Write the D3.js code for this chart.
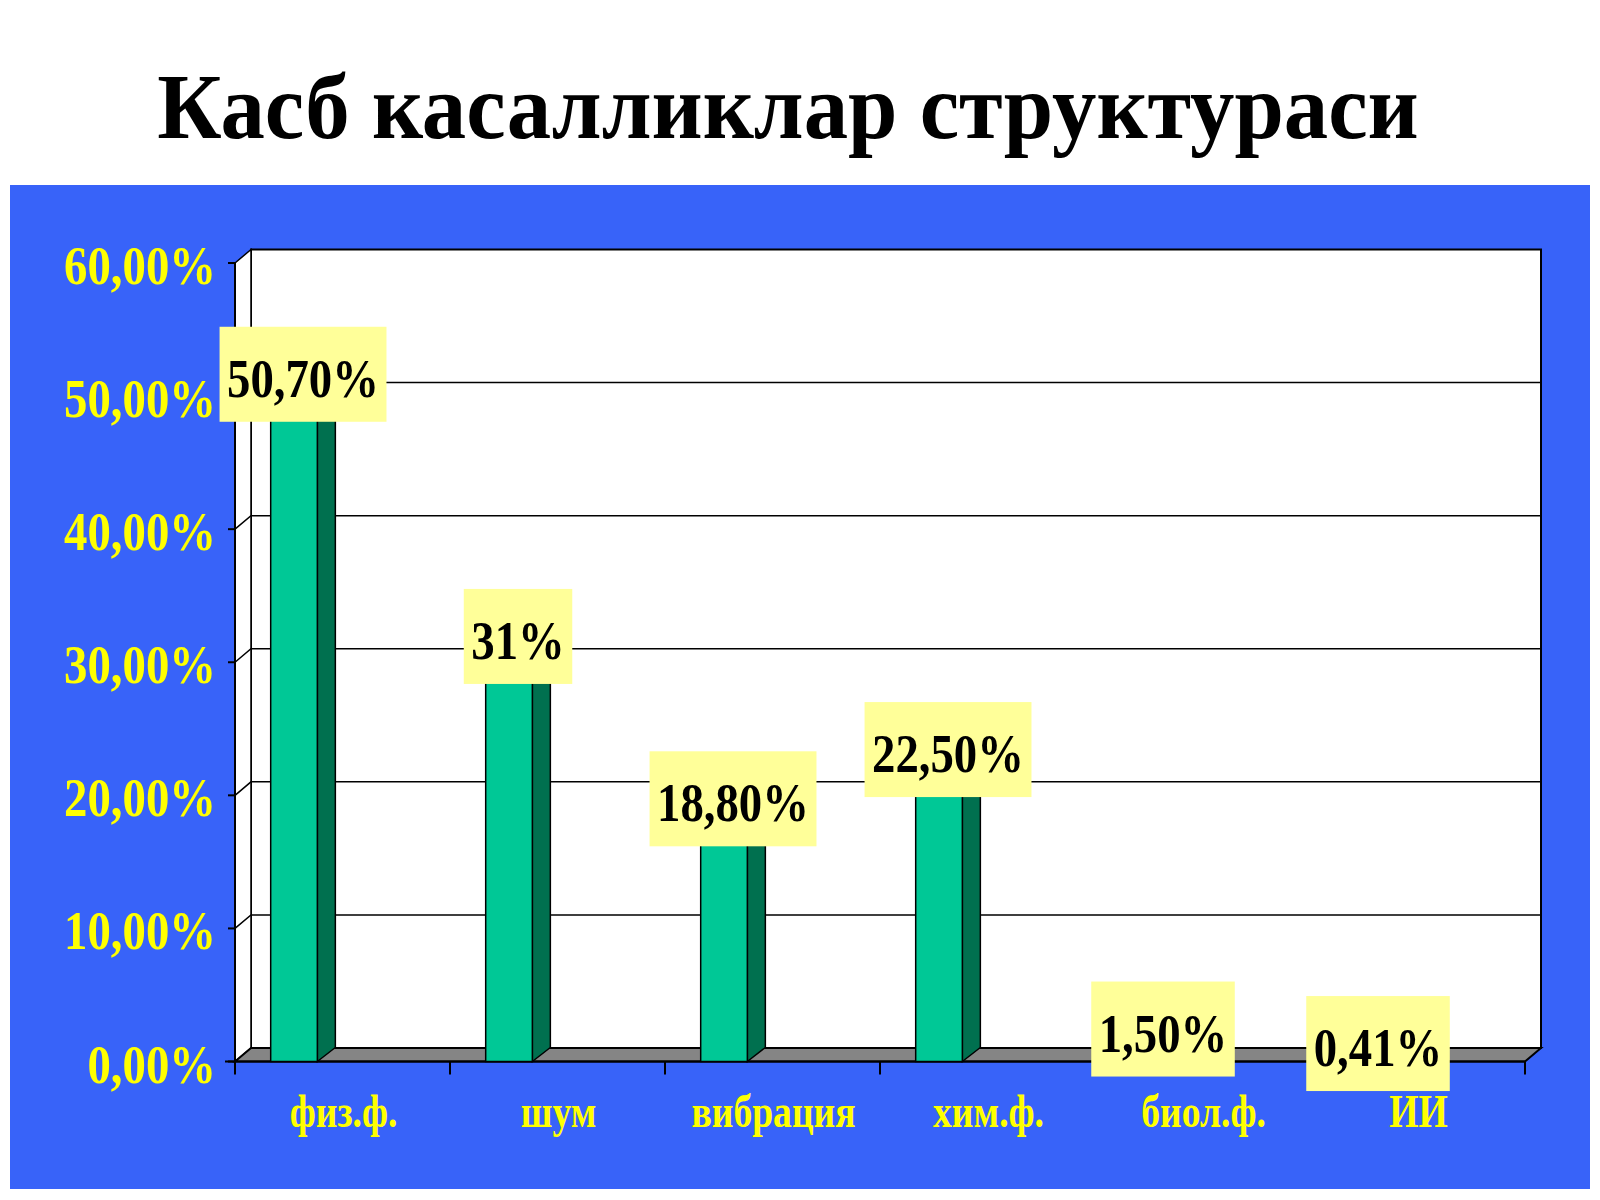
<!DOCTYPE html>
<html>
<head>
<meta charset="utf-8">
<script src="https://cdn.jsdelivr.net/npm/d3@7/dist/d3.min.js"></script>
<style>
  html, body { margin: 0; padding: 0; background: #ffffff; }
  svg { display: block; }
  text { font-family: "Liberation Serif", "Times New Roman", serif; font-weight: bold; }
</style>
</head>
<body>
<svg id="chart" width="1600" height="1200"></svg>
<script>
// ---- data ----
const title = "Касб касалликлар структураси";
const categories = ["физ.ф.", "шум", "вибрация", "хим.ф.", "биол.ф.", "ИИ"];
const values = [50.7, 31, 18.8, 22.5, 1.5, 0.41];
const valueLabels = ["50,70%", "31%", "18,80%", "22,50%", "1,50%", "0,41%"];
const yTicks = [0, 10, 20, 30, 40, 50, 60];
const yTickLabels = ["0,00%", "10,00%", "20,00%", "30,00%", "40,00%", "50,00%", "60,00%"];

// ---- layout ----
const svg = d3.select("#chart");
const X0 = 235, X1 = 1525;          // front axis extents
const Y0 = 1061.5, Y1 = 263;        // front 0% and 60%
const DX = 16, DY = -13.5;          // wall depth offset
const BDX = 18, BDY = -14;          // bar depth offset
const SX = 0.85;                    // horizontal text compression

const x = d3.scaleBand().domain(categories).range([X0, X1]).paddingInner(0).paddingOuter(0);
const y = d3.scaleLinear().domain([0, 60]).range([Y0, Y1]);

// title
svg.append("text")
  .attr("transform", `translate(788,138) scale(0.955,1)`)
  .attr("text-anchor", "middle")
  .attr("font-size", 93)
  .attr("fill", "#000")
  .text(title);

// blue panel
svg.append("rect")
  .attr("x", 10).attr("y", 185).attr("width", 1580).attr("height", 1004)
  .attr("fill", "#3863F9");

// back wall
svg.append("rect")
  .attr("x", X0 + DX).attr("y", y(60) + DY)
  .attr("width", X1 - X0).attr("height", y(0) - y(60))
  .attr("fill", "#ffffff").attr("stroke", "#000").attr("stroke-width", 2);

// left wall
svg.append("path")
  .attr("d", `M${X0},${y(0)} L${X0},${y(60)} L${X0 + DX},${y(60) + DY} L${X0 + DX},${y(0) + DY} Z`)
  .attr("fill", "#ffffff").attr("stroke", "#000").attr("stroke-width", 1.5);

// gridlines (back wall + side wall)
const gridVals = yTicks.filter(v => v > 0 && v < 60);
svg.append("g").selectAll("path").data(gridVals).join("path")
  .attr("d", v => `M${X0},${y(v)} L${X0 + DX},${y(v) + DY} L${X1 + DX},${y(v) + DY}`)
  .attr("fill", "none").attr("stroke", "#000").attr("stroke-width", 1.5);

// floor
svg.append("path")
  .attr("d", `M${X0},${y(0)} L${X0 + DX},${y(0) + DY} L${X1 + DX},${y(0) + DY} L${X1},${y(0)} Z`)
  .attr("fill", "#858585").attr("stroke", "#000").attr("stroke-width", 2);

// front x axis line
svg.append("line")
  .attr("x1", X0 - 10).attr("x2", X1).attr("y1", y(0)).attr("y2", y(0))
  .attr("stroke", "#000").attr("stroke-width", 2);

// front y axis line
svg.append("line")
  .attr("x1", X0).attr("x2", X0).attr("y1", y(0) + 10).attr("y2", y(60))
  .attr("stroke", "#000").attr("stroke-width", 2);

// y ticks
svg.append("g").selectAll("line").data(yTicks).join("line")
  .attr("x1", X0 - 7).attr("x2", X0).attr("y1", d => y(d)).attr("y2", d => y(d))
  .attr("stroke", "#000").attr("stroke-width", 2);

// x ticks at band boundaries
const xBounds = categories.map(c => x(c)).concat([X1]);
svg.append("g").selectAll("line").data(xBounds).join("line")
  .attr("x1", d => d).attr("x2", d => d).attr("y1", y(0)).attr("y2", y(0) + 13)
  .attr("stroke", "#000").attr("stroke-width", 2);

// y tick labels
svg.append("g").selectAll("text").data(yTicks).join("text")
  .attr("transform", (d) => `translate(216,${y(d) + 21}) scale(${SX},1)`)
  .attr("text-anchor", "end")
  .attr("font-size", 55)
  .attr("fill", "#FFFF00")
  .text((d, i) => yTickLabels[i]);

// x labels
svg.append("g").selectAll("text").data(categories).join("text")
  .attr("transform", d => `translate(${x(d) + x.bandwidth() / 2 + 1},1127) scale(0.8,1)`)
  .attr("text-anchor", "middle")
  .attr("font-size", 47)
  .attr("fill", "#FFFF00")
  .text(d => d);

// bars
const bw = x.bandwidth();
const barOff = bw * 0.166, barW = bw * 0.217;
const bars = svg.append("g").selectAll("g").data(values).join("g");
bars.append("path") // side
  .attr("d", (d, i) => {
    const bx = x(categories[i]) + barOff + barW;
    return `M${bx},${y(0)} L${bx + BDX},${y(0) + BDY} L${bx + BDX},${y(d) + BDY} L${bx},${y(d)} Z`;
  })
  .attr("fill", "#00704F").attr("stroke", "#000").attr("stroke-width", 1.5);
bars.append("path") // top
  .attr("d", (d, i) => {
    const bx = x(categories[i]) + barOff;
    return `M${bx},${y(d)} L${bx + BDX},${y(d) + BDY} L${bx + barW + BDX},${y(d) + BDY} L${bx + barW},${y(d)} Z`;
  })
  .attr("fill", "#33D6AA").attr("stroke", "#000").attr("stroke-width", 1.5);
bars.append("rect") // front
  .attr("x", (d, i) => x(categories[i]) + barOff)
  .attr("y", d => y(d))
  .attr("width", barW)
  .attr("height", d => y(0) - y(d))
  .attr("fill", "#00C896").attr("stroke", "#000").attr("stroke-width", 1.5);

// value labels with yellow boxes
const labels = svg.append("g").selectAll("g").data(values).join("g")
  .attr("transform", (d, i) => `translate(${x(categories[i]) + barOff + (barW + BDX) / 2},${y(d)})`);
labels.append("text")
  .attr("transform", `translate(0,10) scale(${SX},1)`)
  .attr("text-anchor", "middle")
  .attr("font-size", 55)
  .attr("fill", "#000")
  .text((d, i) => valueLabels[i]);
labels.each(function() {
  const g = d3.select(this);
  const t = g.select("text");
  const w = t.node().getComputedTextLength() * SX + 15;
  g.insert("rect", "text")
    .attr("x", -w / 2).attr("y", -60).attr("width", w).attr("height", 95)
    .attr("fill", "#FFFF99");
});
</script>
</body>
</html>
